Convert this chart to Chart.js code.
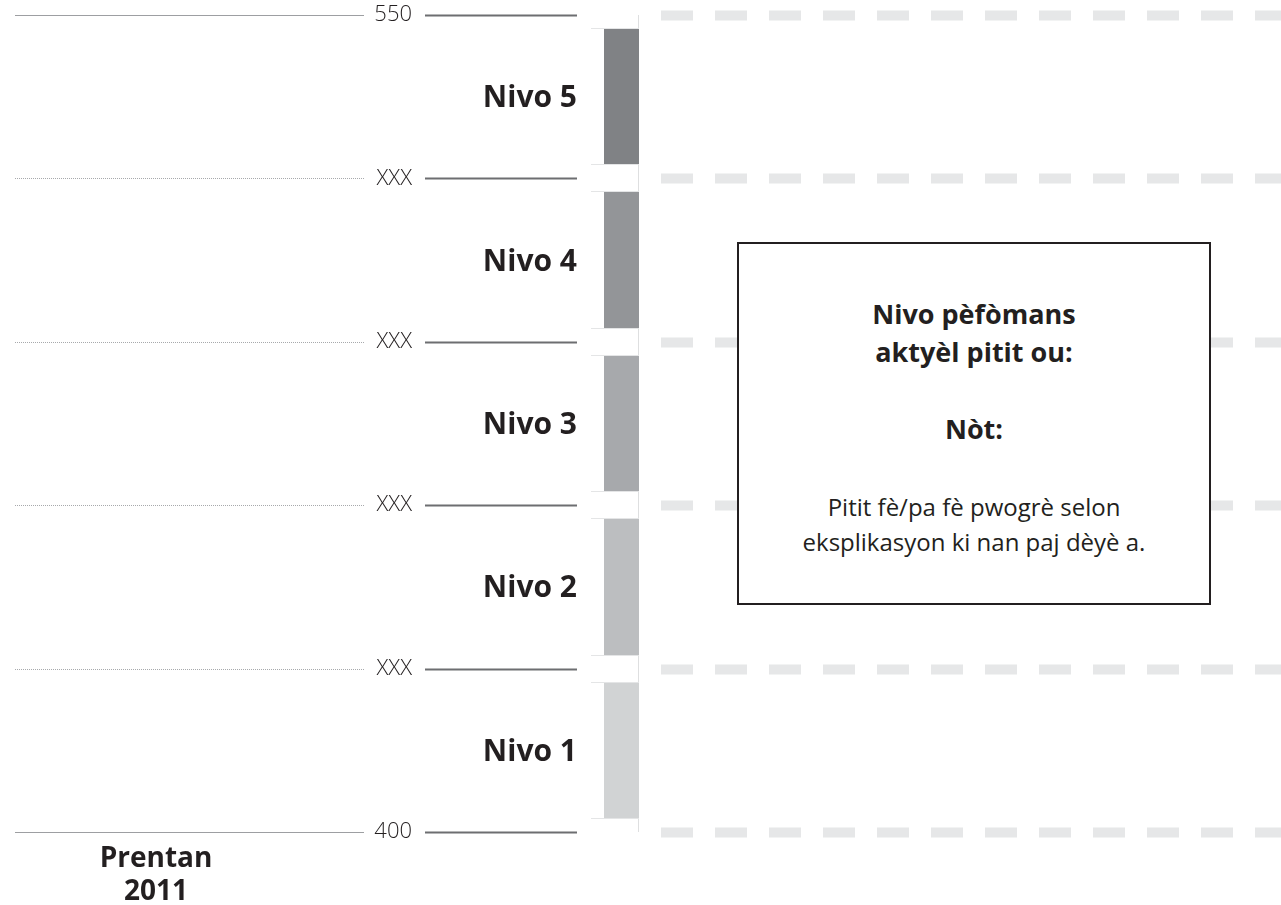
<!DOCTYPE html>
<html>
<head>
<meta charset="utf-8">
<title>Nivo pèfòmans</title>
<script src="https://cdn.jsdelivr.net/npm/chart.js@4/dist/chart.umd.min.js"></script>
<style>
  body { margin: 0; background: #fff; }
  #wrap { position: relative; width: 1281px; height: 905px; }
  #levels { position: absolute; left: 0; top: 0; }
  #note {
    position: absolute; left: 737px; top: 242px; width: 474px; height: 363px;
    box-sizing: border-box; border: 2px solid #231f20; background: #fff;
    text-align: center; color: #231f20; font-family: 'Open Sans', sans-serif;
    padding-top: 51px;
  }
  #note .head { font-size: 27px; font-weight: 700; line-height: 38px; margin: 0; }
  #note .score { font-size: 27px; font-weight: 700; line-height: 38px; margin: 39px 0 0 0; }
  #note .text { font-size: 24px; font-weight: 400; line-height: 35px; margin: 41px 0 0 0; }
</style>
</head>
<body>
<div id="wrap">
  <canvas id="levels" width="1281" height="905"></canvas>
  <div id="note">
    <p class="head">Nivo pèfòmans<br>aktyèl pitit ou:</p>
    <p class="score">Nòt:</p>
    <p class="text">Pitit fè/pa fè pwogrè selon<br>eksplikasyon ki nan paj dèyè a.</p>
  </div>
</div>

<script>
// data
var periodLabel = ['Prentan', '2011'];
var levels = ['Nivo 1', 'Nivo 2', 'Nivo 3', 'Nivo 4', 'Nivo 5'];
var cutScores = [400, 430, 460, 490, 520, 550];
var tickLabels = ['400', 'XXX', 'XXX', 'XXX', 'XXX', '550'];
var levelColors = ['#d1d3d4', '#bcbec0', '#a7a9ac', '#939598', '#808285'];

var GAP = 14; // white space between the level bars, px

Chart.defaults.font.family = "'Open Sans', sans-serif";
Chart.defaults.color = '#231f20';

// lines, level names and period label, placed from the y scale
var scoreLines = {
  id: 'scoreLines',
  beforeDatasetsDraw: function (chart) {
    var ctx = chart.ctx, area = chart.chartArea, y = chart.scales.y;
    var w = chart.width;
    ctx.save();

    // thin rule at the right edge of the bar
    ctx.strokeStyle = '#dedfe0';
    ctx.lineWidth = 1;
    ctx.beginPath();
    ctx.moveTo(area.right - 0.5, area.top);
    ctx.lineTo(area.right - 0.5, area.bottom);
    ctx.stroke();

    y.ticks.forEach(function (t, i) {
      var py = Math.round(y.getPixelForValue(t.value)) + 0.5;
      var edge = (i === 0 || i === y.ticks.length - 1);

      // left guide line
      ctx.lineWidth = 1;
      ctx.strokeStyle = edge ? '#9d9fa2' : '#a7a9ac';
      ctx.setLineDash(edge ? [] : [1, 1]);
      ctx.beginPath();
      ctx.moveTo(15, py);
      ctx.lineTo(area.left - 240, py);
      ctx.stroke();
      ctx.setLineDash([]);

      // short dark line after the score
      ctx.lineWidth = 2;
      ctx.strokeStyle = '#6d6e71';
      ctx.beginPath();
      ctx.moveTo(area.left - 179, py);
      ctx.lineTo(area.left - 27, py);
      ctx.stroke();

      // dashed band to the right
      ctx.lineWidth = 10;
      ctx.strokeStyle = '#e6e7e8';
      ctx.setLineDash([32, 22]);
      ctx.beginPath();
      ctx.moveTo(area.right + 22, py);
      ctx.lineTo(w, py);
      ctx.stroke();
      ctx.setLineDash([]);
    });
    ctx.restore();
  },
  afterDatasetsDraw: function (chart) {
    var ctx = chart.ctx, area = chart.chartArea, y = chart.scales.y;
    ctx.save();

    // light edges of every level bar
    ctx.strokeStyle = '#e4e5e6';
    ctx.lineWidth = 1;
    for (var i = 0; i < levels.length; i++) {
      var top = Math.round(y.getPixelForValue(cutScores[i + 1])) + GAP - 0.5;
      var bot = Math.round(y.getPixelForValue(cutScores[i])) - GAP + 0.5;
      ctx.beginPath();
      ctx.moveTo(area.left - 13, top); ctx.lineTo(area.right, top);
      ctx.moveTo(area.left - 13, bot); ctx.lineTo(area.right, bot);
      ctx.stroke();
    }

    // level names
    ctx.fillStyle = '#231f20';
    ctx.font = "700 30px 'Open Sans', sans-serif";
    ctx.textAlign = 'right';
    ctx.textBaseline = 'middle';
    for (var j = 0; j < levels.length; j++) {
      var mid = (y.getPixelForValue(cutScores[j]) + y.getPixelForValue(cutScores[j + 1])) / 2;
      ctx.fillText(levels[j], area.left - 27, mid + 2);
    }

    // period label
    ctx.font = "700 28px 'Open Sans', sans-serif";
    ctx.textAlign = 'center';
    periodLabel.forEach(function (line, k) {
      ctx.fillText(line, 156, area.bottom + 27 + k * 33);
    });
    ctx.restore();
  }
};

var ctx = document.getElementById('levels').getContext('2d');
var chart = new Chart(ctx, {
    type: 'bar',
    data: {
        labels: [periodLabel.join(' ')],
        datasets: levels.map(function (name, i) {
            return {
                label: name,
                data: [[cutScores[i], cutScores[i + 1]]],
                backgroundColor: levelColors[i],
                borderColor: 'rgba(0,0,0,0)',
                borderWidth: { top: GAP, bottom: GAP, left: 0, right: 0 },
                borderSkipped: false,
                barPercentage: 1,
                categoryPercentage: 1
            };
        })
    },
    options: {
        responsive: false,
        animation: false,
        layout: { padding: { left: 0, right: 642, top: 15, bottom: 73 } },
        plugins: { legend: { display: false }, tooltip: { enabled: false } },
        scales: {
            x: { display: false, stacked: true },
            y: {
                stacked: false,
                min: cutScores[0],
                max: cutScores[cutScores.length - 1],
                afterBuildTicks: function (scale) {
                    scale.ticks = cutScores.map(function (v) { return { value: v }; });
                },
                afterFit: function (scale) {
                    scale.width = 604;
                    scale.paddingTop = 0;
                    scale.paddingBottom = 0;
                },
                grid: { display: false, drawTicks: false },
                border: { display: false },
                ticks: {
                    padding: 192,
                    font: { size: 22, weight: 300 },
                    color: '#231f20',
                    callback: function (value, index) { return tickLabels[index]; }
                }
            }
        }
    },
    plugins: [scoreLines]
});
</script>
</body>
</html>
